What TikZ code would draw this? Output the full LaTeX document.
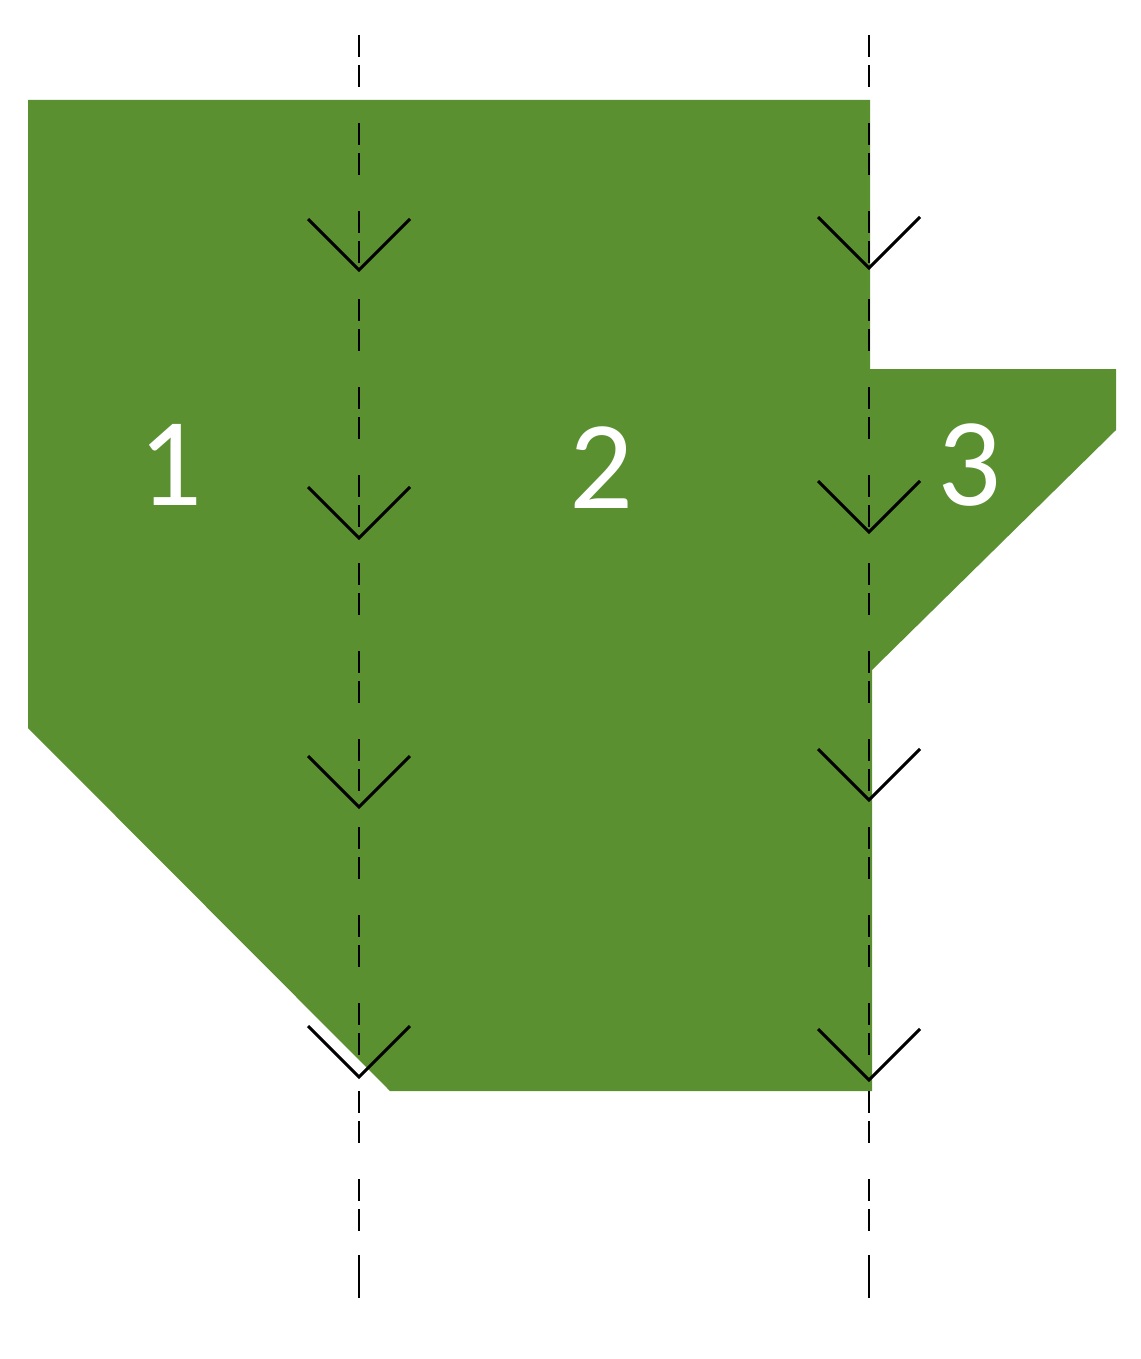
\documentclass[tikz,border=0pt]{standalone}
\usepackage{fontspec}
\setmainfont{Carlito}
\usetikzlibrary{positioning}
\definecolor{leafgreen}{RGB}{91,144,49}
\tikzset{
  flowline/.style={line width=1.2pt,dash pattern=on 11pt off 4pt on 11pt off 18pt},
  chevron/.style={line width=1.5pt},
  zonelabel/.style={text=white,font=\fontsize{63}{70}\selectfont}
}
\begin{document}
\begin{tikzpicture}[x=0.5pt,y=-0.5pt]
	\useasboundingbox (0,0) rectangle (1140,1359);
	% green area
	\fill[leafgreen] (28,100) -- (870,100) -- (870,369) -- (1116,369) -- (1116,430)
		-- (872,670) -- (872,1091) -- (390,1091) -- (28,728) -- cycle;
	% zone labels
	\node[zonelabel] (one) at (170,465) {1};
	\node[zonelabel] (two) at (601,468) {2};
	\node[zonelabel] (three) at (969,465) {3};
	% flow lines
	\foreach \x/\n in {359/L,869/R} {
		\coordinate (\n top) at (\x,35);
		\coordinate (\n end) at (\x,1255);
		\coordinate (\n bot) at (\x,1298);
		\draw[flowline] (\n top) -- (\n end);
		\draw[line width=1.2pt] (\n end) -- (\n bot);
	}
	% chevrons
	\foreach \y in {270,538,807,1077}
		\draw[chevron] (308,\y-51) -- (359,\y) -- (410,\y-51);
	\foreach \y in {268,532,800,1080}
		\draw[chevron] (818,\y-51) -- (869,\y) -- (920,\y-51);
\end{tikzpicture}
\end{document}
